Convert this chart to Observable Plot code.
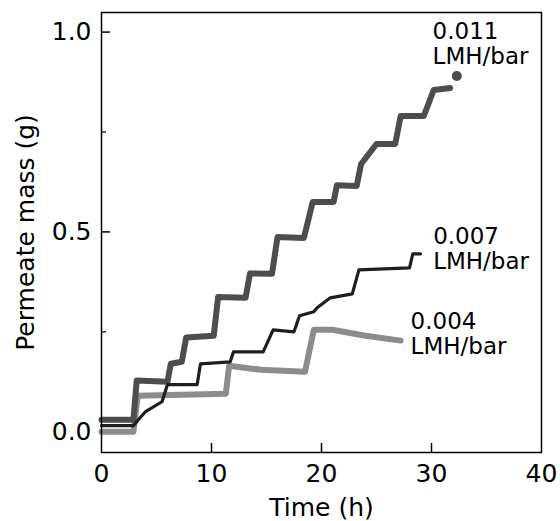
<!DOCTYPE html>
<html>
<head>
<meta charset="utf-8">
<script src="https://cdn.jsdelivr.net/npm/d3@7"></script>
<script src="https://cdn.jsdelivr.net/npm/@observablehq/plot@0.6"></script>
<style>
  html, body { margin: 0; padding: 0; background: #fff; }
  #chart svg { font-family: "DejaVu Sans", sans-serif; }
</style>
</head>
<body>
<div id="chart"></div>
<script>
// Series: 0.011 LMH/bar (dark gray)
const tHigh = [0, 2.9, 3.2, 6.0, 6.3, 7.3, 7.7, 10.2, 10.6, 13.1, 13.5, 15.5, 16.0, 18.4, 19.2, 21.1, 21.4, 23.2, 23.6, 25.0, 26.7, 27.2, 29.3, 30.2, 31.7];
const mHigh = [0.03, 0.03, 0.128, 0.125, 0.17, 0.175, 0.236, 0.24, 0.337, 0.335, 0.396, 0.395, 0.487, 0.485, 0.575, 0.575, 0.617, 0.615, 0.67, 0.72, 0.72, 0.79, 0.79, 0.855, 0.86];
const endHigh = [{t: 32.3, m: 0.89}];
// Series: 0.007 LMH/bar (black)
const tMid = [0, 2.9, 3.5, 4.0, 5.5, 6.0, 8.7, 9.0, 11.7, 12.0, 14.7, 15.6, 17.5, 18.0, 19.3, 19.6, 20.8, 22.8, 23.4, 28.0, 28.3, 29.0];
const mMid = [0.015, 0.015, 0.035, 0.05, 0.075, 0.118, 0.118, 0.17, 0.175, 0.2, 0.2, 0.255, 0.25, 0.29, 0.3, 0.31, 0.335, 0.345, 0.405, 0.41, 0.445, 0.445];
// Series: 0.004 LMH/bar (light gray)
const tLow = [0, 2.9, 3.3, 11.3, 11.6, 14.5, 18.5, 19.3, 21.0, 24.0, 27.2];
const mLow = [0.0, 0.0, 0.09, 0.095, 0.165, 0.155, 0.15, 0.255, 0.255, 0.24, 0.228];

// Annotations
const labels = ["0.011\nLMH/bar", "0.007\nLMH/bar", "0.004\nLMH/bar"];
const labelT = [30.1, 30.15, 28.1];
const labelM = [1.028, 0.515, 0.302];

// Ticks and axis titles
const xTicks = [0, 10, 20, 30, 40];
const yTicks = [0, 0.5, 1.0];
const yMinor = [0.25, 0.75];
const xTitle = "Time (h)";
const yTitle = "Permeate mass (g)";

const colors = {high: "#4d4d4d", mid: "#1e1e1e", low: "#8c8c8c"};

const high = tHigh.map((t, i) => ({t, m: mHigh[i]}));
const mid = tMid.map((t, i) => ({t, m: mMid[i]}));
const low = tLow.map((t, i) => ({t, m: mLow[i]}));
const ann = labels.map((s, i) => ({s, t: labelT[i], m: labelM[i]}));

const W = 560, H = 521;
const mL = 101, mR = 19, mT = 12, mB = 69;
const innerW = W - mL - mR, innerH = H - mT - mB;

const chart = Plot.plot({
  width: W, height: H,
  marginLeft: mL, marginRight: mR, marginTop: mT, marginBottom: mB,
  style: {fontFamily: "DejaVu Sans, sans-serif", background: "#fff", color: "#000"},
  x: {domain: [0, 40]},
  y: {domain: [-0.052, 1.049]},
  marks: [
    Plot.axisX(xTicks, {tickSize: 0, tickPadding: 12, fontSize: 25, label: null, fill: "#000"}),
    Plot.axisY(yTicks, {tickSize: 0, tickPadding: 10, fontSize: 25, tickFormat: d3.format(".1f"), label: null, fill: "#000"}),
    Plot.text([xTitle], {frameAnchor: "bottom", textAnchor: "middle", dy: 55, lineAnchor: "middle", fontSize: 25, fill: "#000"}),
    Plot.text([yTitle], {frameAnchor: "left", textAnchor: "middle", dx: -76, rotate: -90, lineAnchor: "middle", fontSize: 25, fill: "#000"}),
    Plot.tickX(xTicks.slice(1, -1), {x: d => d, stroke: "#000", strokeWidth: 1.5, insetTop: innerH - 9}),
    Plot.tickY(yTicks, {y: d => d, stroke: "#000", strokeWidth: 1.5, insetRight: innerW - 9}),
    Plot.tickY(yMinor, {y: d => d, stroke: "#000", strokeWidth: 1.2, insetRight: innerW - 5}),
    Plot.line(low, {x: "t", y: "m", stroke: colors.low, strokeWidth: 6, strokeLinejoin: "round", strokeLinecap: "round"}),
    Plot.line(high, {x: "t", y: "m", stroke: colors.high, strokeWidth: 6, strokeLinejoin: "round", strokeLinecap: "round"}),
    Plot.line(mid, {x: "t", y: "m", stroke: colors.mid, strokeWidth: 3.2, strokeLinejoin: "round", strokeLinecap: "round"}),
    Plot.dot(endHigh, {x: "t", y: "m", r: 5, fill: colors.high}),
    Plot.text(ann, {x: "t", y: "m", text: "s", textAnchor: "start", lineAnchor: "top", fontSize: 23, lineHeight: 1.1, fill: "#000"}),
    Plot.frame({stroke: "#000", strokeWidth: 1.5})
  ]
});
document.getElementById("chart").appendChild(chart);
</script>
</body>
</html>
